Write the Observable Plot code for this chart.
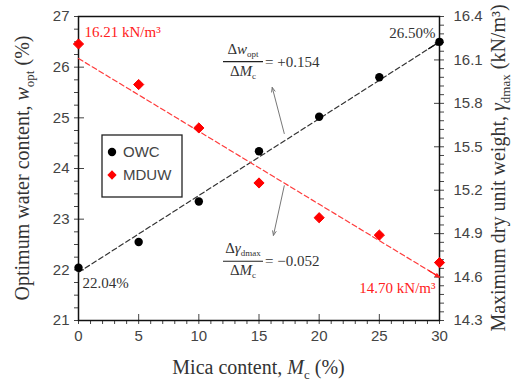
<!DOCTYPE html>
<html><head><meta charset="utf-8">
<script src="https://cdn.jsdelivr.net/npm/d3@7"></script>
<script src="https://cdn.jsdelivr.net/npm/@observablehq/plot@0.6"></script>
<style>body{margin:0;background:#fff} svg{display:block}</style>
</head><body><div id="chart"></div>
<script>
// ---- data ----
const micaContent = [0, 5, 10, 15, 20, 25, 30];
const owc = [22.04, 22.55, 23.35, 24.34, 25.02, 25.80, 26.50];        // %, left axis
const mduw = [16.21, 15.93, 15.63, 15.25, 15.01, 14.89, 14.70];       // kN/m3, right axis
const xTicks = [0, 5, 10, 15, 20, 25, 30];
const leftTicks = [21, 22, 23, 24, 25, 26, 27];
const rightTicks = [14.3, 14.6, 14.9, 15.2, 15.5, 15.8, 16.1, 16.4];
const owcFitX = [0, 30], owcFitY = [21.95, 26.50];
const mduwFitX = [0, 30], mduwFitY = [16.11, 14.60];
const pointLabels = [
  {x: 0, v: 16.21, axis: "right", text: "16.21 kN/m³", color: "red", dx: 6, dy: -12, anchor: "start"},
  {x: 30, v: 26.50, axis: "left", text: "26.50%", color: "dark", dx: -4, dy: -9, anchor: "end"},
  {x: 0, v: 22.04, axis: "left", text: "22.04%", color: "dark", dx: 4, dy: 15, anchor: "start"},
  {x: 30, v: 14.70, axis: "right", text: "14.70 kN/m³", color: "red", dx: -4, dy: 26, anchor: "end"}
];
const legendItems = [{label: "OWC", color: "#000", symbol: "circle"}, {label: "MDUW", color: "#ff0000", symbol: "diamond"}];

// right axis (14.3..16.4) mapped onto left axis (21..27)
const conv = v => 21 + (v - 14.3) * 6 / 2.1;
const inv = d => 14.3 + (d - 21) * 2.1 / 6;

const owcData = micaContent.map((x, i) => ({x, y: owc[i]}));
const mduwData = micaContent.map((x, i) => ({x, y: conv(mduw[i])}));
const owcFit = owcFitX.map((x, i) => ({x, y: owcFitY[i]}));
const mduwFit = mduwFitX.map((x, i) => ({x, y: conv(mduwFitY[i])}));
const head = (fit) => {
  const a = fit[0], b = fit[1], t = 0.03;
  return [{x1: b.x - (b.x - a.x) * t, y1: b.y - (b.y - a.y) * t, x2: b.x, y2: b.y}];
};

const xMinor = d3.range(0, 31, 1).filter(v => !xTicks.includes(v));
const yMinor = d3.range(21, 27.001, 0.25).filter(v => !leftTicks.includes(v));
const rMinor = d3.range(0, 36).map(k => 14.3 + k * 0.06).filter((v, k) => k % 5 !== 0).map(conv);

const serif = "'Liberation Serif', 'Times New Roman', serif";
const sans = "'Liberation Sans', Arial, sans-serif";
const dark = "#333";
const red = "#ff2020";

const labelMarks = pointLabels.map(d => Plot.text([{x: d.x, y: d.axis === "right" ? conv(d.v) : d.v, text: d.text}], {
  x: "x", y: "y", text: "text", dx: d.dx, dy: d.dy, textAnchor: d.anchor,
  fill: d.color === "red" ? red : dark, fontFamily: serif, fontSize: 15
}));

const chart = Plot.plot({
  width: 513, height: 381,
  marginLeft: 78, marginRight: 74, marginTop: 16, marginBottom: 61,
  x: {domain: [0, 30]},
  y: {domain: [21, 27]},
  style: {fontFamily: sans, fontSize: "15px", color: "#444", background: "#fff", overflow: "visible"},
  marks: [
    // x axis
    Plot.axisX({ticks: xTicks, tickSize: 4, tickPadding: 6, label: null, fontSize: 15}),
    Plot.axisX({ticks: xTicks, tickSize: -6, text: null, label: null}),
    Plot.axisX({ticks: xMinor, tickSize: 4, text: null, label: null}),
    // left axis
    Plot.axisY({ticks: leftTicks, tickSize: 4, tickPadding: 5, label: null, fontSize: 15, tickFormat: d => d}),
    Plot.axisY({ticks: leftTicks, tickSize: -6, text: null, label: null}),
    Plot.axisY({ticks: yMinor, tickSize: 4, text: null, label: null}),
    // right axis
    Plot.axisY({anchor: "right", ticks: rightTicks.map(conv), tickSize: 4, tickPadding: 10, label: null, fontSize: 15, tickFormat: d => inv(d).toFixed(1)}),
    Plot.axisY({anchor: "right", ticks: rightTicks.map(conv), tickSize: -6, text: null, label: null}),
    Plot.axisY({anchor: "right", ticks: rMinor, tickSize: 4, text: null, label: null}),
    Plot.frame({stroke: "#111", strokeWidth: 1.5}),
    // trend lines
    Plot.line(owcFit, {x: "x", y: "y", stroke: dark, strokeWidth: 1.2, strokeDasharray: "5,3"}),
    Plot.line(mduwFit, {x: "x", y: "y", stroke: "#ff3b3b", strokeWidth: 1.2, strokeDasharray: "5,3"}),
    Plot.arrow(head(owcFit), {x1: "x1", y1: "y1", x2: "x2", y2: "y2", stroke: "#111", strokeWidth: 1.3, headLength: 11, headAngle: 40}),
    Plot.arrow(head(mduwFit), {x1: "x1", y1: "y1", x2: "x2", y2: "y2", stroke: "#ff2020", strokeWidth: 1.3, headLength: 11, headAngle: 40}),
    // annotation arrows
    Plot.arrow([{x1: 17.1, y1: 24.69, x2: 16.1, y2: 25.6}, {x1: 17.1, y1: 23.66, x2: 16.2, y2: 22.68}],
      {x1: "x1", y1: "y1", x2: "x2", y2: "y2", stroke: "#777", strokeWidth: 1, headLength: 7, headAngle: 45}),
    // data points
    Plot.dot(owcData, {x: "x", y: "y", r: 4.2, fill: "#000"}),
    Plot.dot(mduwData, {x: "x", y: "y", r: 4.6, symbol: "diamond2", fill: "#ff0000", stroke: "#ff0000", strokeWidth: 1}),
    ...labelMarks
  ]
});

document.getElementById("chart").appendChild(chart);

const svg = d3.select(chart);
const xs = chart.scale("x"), ys = chart.scale("y");

// axis titles
function title(g, parts, size) {
  const t = g.append("text").attr("font-family", serif).attr("font-size", size).attr("fill", dark).attr("text-anchor", "middle");
  parts.forEach(p => {
    const s = t.append("tspan").text(p.t);
    if (p.i) s.attr("font-style", "italic");
    if (p.sub) s.attr("font-size", size * 0.65).attr("dy", size * 0.25);
    if (p.back) s.attr("dy", -size * 0.25);
  });
  return t;
}
title(svg.append("g").attr("transform", `translate(${(xs.apply(0) + xs.apply(30)) / 2},374)`),
  [{t: "Mica content, "}, {t: "M", i: true}, {t: "c", sub: true}, {t: " (%)", back: true}], 20);
title(svg.append("g").attr("transform", `translate(29,${(ys.apply(21) + ys.apply(27)) / 2}) rotate(-90)`),
  [{t: "Optimum water content, "}, {t: "w", i: true}, {t: "opt", sub: true}, {t: " (%)", back: true}], 20);
title(svg.append("g").attr("transform", `translate(505,${(ys.apply(21) + ys.apply(27)) / 2}) rotate(-90)`),
  [{t: "Maximum dry unit weight, "}, {t: "γ", i: true}, {t: "dmax", sub: true}, {t: " (kN/m³)", back: true}], 20);

// slope fractions
const fractions = [
  {x: 12.05, y: 26.10, num: [{t: "Δ"}, {t: "w", i: true}, {t: "opt", sub: true}], value: "= +0.154"},
  {x: 12.05, y: 22.16, num: [{t: "Δ"}, {t: "γ", i: true}, {t: "dmax", sub: true}], value: "= −0.052"}
];
fractions.forEach(f => {
  const bx = xs.apply(f.x), by = ys.apply(f.y);
  const g = svg.append("g").attr("transform", `translate(${bx},${by})`).attr("fill", dark).attr("font-family", serif);
  g.append("line").attr("x1", 0).attr("x2", 40).attr("y1", 0).attr("y2", 0).attr("stroke", "#222").attr("stroke-width", 1.2);
  const n = g.append("text").attr("x", 20).attr("y", -8).attr("text-anchor", "middle").attr("font-size", 15);
  f.num.forEach(p => {
    const s = n.append("tspan").text(p.t);
    if (p.i) s.attr("font-style", "italic");
    if (p.sub) s.attr("font-size", 9).attr("dy", 3);
  });
  const d = g.append("text").attr("x", 20).attr("y", 14).attr("text-anchor", "middle").attr("font-size", 15);
  d.append("tspan").text("Δ");
  d.append("tspan").text("M").attr("font-style", "italic");
  d.append("tspan").text("c").attr("font-size", 9).attr("dy", 3);
  g.append("text").attr("x", 42).attr("y", 5).attr("text-anchor", "start").attr("font-size", 15).text(f.value);
});

// legend
const lg = svg.append("g").attr("transform", "translate(102,135)");
lg.append("rect").attr("width", 80).attr("height", 62).attr("fill", "#fff").attr("stroke", "#222").attr("stroke-width", 1.3);
legendItems.forEach((it, i) => {
  const cy = 17 + i * 23;
  const sym = d3.symbol(it.symbol === "circle" ? d3.symbolCircle : d3.symbolDiamond2, it.symbol === "circle" ? 55 : 55);
  lg.append("path").attr("d", sym()).attr("transform", `translate(10,${cy})`).attr("fill", it.color);
  lg.append("text").attr("x", 21).attr("y", cy).attr("dy", "0.35em").attr("text-anchor", "start")
    .attr("font-family", sans).attr("font-size", 15).attr("fill", "#444").text(it.label);
});
</script>
</body></html>
